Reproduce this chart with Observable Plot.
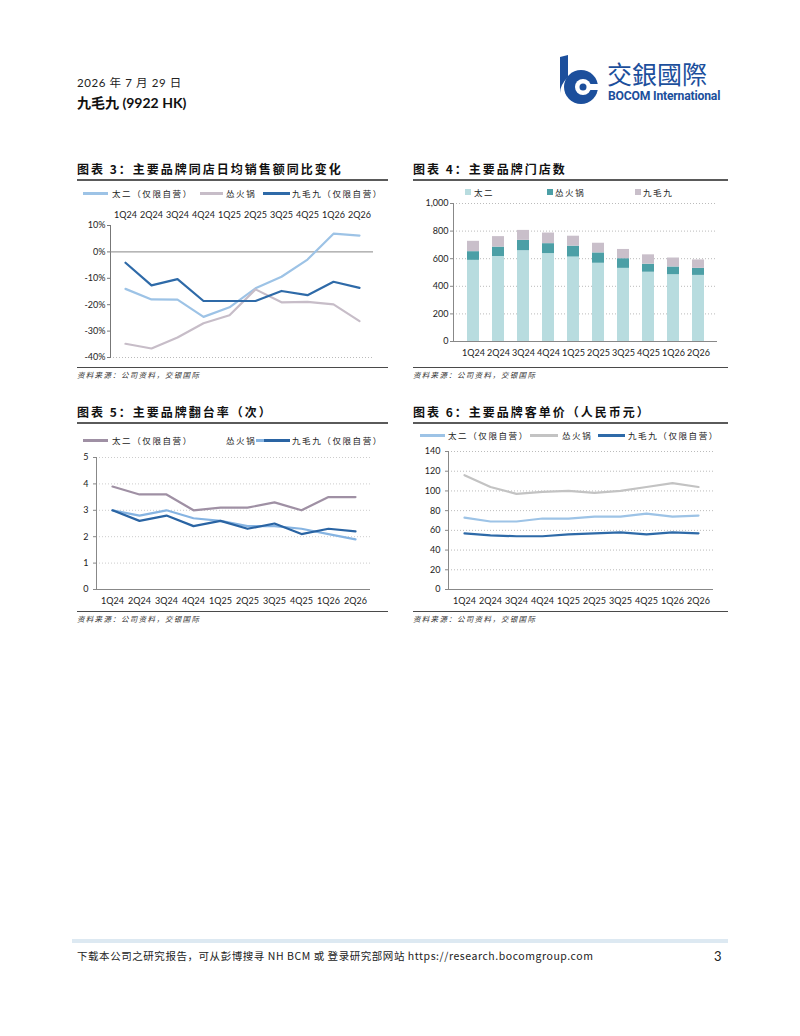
<!DOCTYPE html>
<html><head><meta charset="utf-8">
<script src="https://cdn.jsdelivr.net/npm/d3@7"></script>
<script src="https://cdn.jsdelivr.net/npm/@observablehq/plot@0.6"></script>
<style>
body{margin:0;background:#fff;width:800px;height:1036px;position:relative;overflow:hidden;font-family:"Noto Sans CJK SC",sans-serif;color:#111;}
.abs{position:absolute;white-space:nowrap;line-height:1.2;}
.title{font-weight:bold;font-size:12px;letter-spacing:2px;line-height:14px;}
.tline{height:2px;background:#5a5a5a;}
.bline{height:1px;background:#4a4a4a;}
.src{font-size:7.5px;letter-spacing:1.3px;color:#333;font-style:italic;line-height:10px;}
.leg{font-size:8.5px;letter-spacing:1.6px;color:#222;line-height:10px;}
.sw{position:absolute;height:2.5px;}
.sq{position:absolute;width:6px;height:6px;}
</style>
</head><body>
<script>
const quarters = ["1Q24","2Q24","3Q24","4Q24","1Q25","2Q25","3Q25","4Q25","1Q26","2Q26"];

// 图表3 同店日均销售额同比变化 (%)
const sssTaier = [-14, -18, -18.1, -24.6, -21, -13.8, -9.4, -2.9, 6.9, 6.2];
const sssSong  = [-34.8, -36.6, -32.4, -27, -24, -14.2, -19.1, -18.9, -19.9, -26.2];
const sssJmj   = [-4.1, -12.7, -10.3, -18.6, -18.6, -18.6, -14.8, -16.4, -11.3, -13.6];

// 图表4 门店数
const storesTaier = [588, 616, 658, 637, 612, 567, 530, 502, 484, 479];
const storesSong  = [63, 68, 75, 72, 79, 75, 70, 58, 56, 51];
const storesJmj   = [75, 76, 72, 77, 72, 70, 67, 68, 65, 61];

// 图表5 翻台率（次）
const turnTaier = [3.9, 3.6, 3.6, 3.0, 3.1, 3.1, 3.3, 3.0, 3.5, 3.5];
const turnSong  = [3.0, 2.8, 3.0, 2.7, 2.6, 2.4, 2.4, 2.3, 2.1, 1.9];
const turnJmj   = [3.0, 2.6, 2.8, 2.4, 2.6, 2.3, 2.5, 2.1, 2.3, 2.2];

// 图表6 客单价（人民币元）
const ticketTaier = [73, 69, 69, 72, 72, 74, 74, 77, 74, 75];
const ticketSong  = [116, 104, 97, 99, 100, 98, 100, 104, 108, 104];
const ticketJmj   = [57, 55, 54, 54, 56, 57, 58, 56, 58, 57];

const nameTaierSelf = "太二（仅限自营）";
const nameSong = "怂火锅";
const nameJmjSelf = "九毛九（仅限自营）";
const storeNames = ["太二", "怂火锅", "九毛九"];

function el(tag, cls, style, html) {
  const e = document.createElement(tag);
  if (cls) e.className = cls;
  Object.assign(e.style, style || {});
  if (html != null) e.textContent = html;
  document.body.appendChild(e);
  return e;
}
function place(node, left, top) {
  node.style.position = "absolute";
  node.style.left = left + "px";
  node.style.top = top + "px";
  document.body.appendChild(node);
}
function long(names, arrays) {
  const out = [];
  names.forEach((n, i) => arrays[i].forEach((v, j) => out.push({q: quarters[j], v, s: n})));
  return out;
}
const baseStyle = {fontFamily: "Lato, 'Liberation Sans', sans-serif", fontSize: "9px", color: "#222", background: "transparent", overflow: "visible"};

// ---------- Header ----------
el("div", "abs", {left: "77px", top: "76px", fontSize: "11.5px", fontFamily: "Lato, 'Noto Sans CJK SC'", color: "#222", letterSpacing: "0.6px"}, "2026 年 7 月 29 日");
el("div", "abs", {left: "77px", top: "95px", fontSize: "14px", fontWeight: "bold", fontFamily: "Lato, 'Noto Sans CJK SC'", color: "#111"}, "九毛九 (9922 HK)");
// logo
const logo = document.createElement("div");
logo.innerHTML = `<svg width="46" height="50" viewBox="0 0 46 50">
<path d="M3 2 L11 0 L11 22 Q3 30 3 38 Z" fill="#1c4f9c"/>
<circle cx="24" cy="32" r="17" fill="#1c4f9c"/>
<circle cx="26" cy="32" r="8" fill="#fff"/>
<rect x="26" y="29" width="20" height="6" fill="#fff"/>
<circle cx="26" cy="32" r="3.5" fill="#1c4f9c"/>
</svg>`;
place(logo, 557, 55);
el("div", "abs", {left: "607px", top: "60px", fontSize: "25px", lineHeight: "26px", color: "#1c4f9c", fontFamily: "'Noto Sans CJK TC'"}, "交銀國際");
el("div", "abs", {left: "608px", top: "89px", fontSize: "12.2px", lineHeight: "14px", fontWeight: "bold", color: "#1c4f9c", fontFamily: "Roboto, sans-serif", letterSpacing: "-0.2px"}, "BOCOM International");

// ---------- Frames (titles, lines, sources) ----------
function frame(x, w, titleTop, title, tlineTop, blineTop) {
  el("div", "abs title", {left: x + "px", top: titleTop + "px"}, title);
  el("div", "abs tline", {left: x + "px", top: tlineTop + "px", width: w + "px"});
  el("div", "abs bline", {left: x + "px", top: blineTop + "px", width: w + "px"});
  el("div", "abs src", {left: x + "px", top: (blineTop + 3) + "px"}, "资料来源：公司资料，交银国际");
}
frame(77, 311, 162, "图表 3：主要品牌同店日均销售额同比变化", 179, 367);
frame(413, 315, 162, "图表 4：主要品牌门店数", 179, 367);
frame(77, 311, 405, "图表 5：主要品牌翻台率（次）", 422, 611);
frame(413, 315, 405, "图表 6：主要品牌客单价（人民币元）", 422, 611);

// ---------- Legends ----------
function lineLegend(y, items) {
  items.forEach(it => {
    if (it.sw) el("div", "sw", {left: it.sw[0] + "px", top: (y - 1) + "px", width: (it.sw[1] - it.sw[0]) + "px", background: it.color});
    if (it.text) el("div", "abs leg", {left: it.tx + "px", top: (y - 5) + "px"}, it.text);
  });
}
const cLightBlue = "#9dc3e6", cMauve = "#c7bdc8", cDark = "#2e6aa8", cGray = "#c3c3c3";
const c5Mauve = "#9f90a4", c5Blue = "#86b4e2", c5Dark = "#2a64a3";

lineLegend(193, [
  {sw: [83, 108], color: cLightBlue, tx: 112, text: nameTaierSelf},
  {sw: [200, 223], color: cMauve, tx: 226, text: nameSong},
  {sw: [263, 290], color: cDark, tx: 292, text: nameJmjSelf}
]);
lineLegend(440, [
  {sw: [83, 108], color: c5Mauve, tx: 112, text: nameTaierSelf},
  {tx: 226, text: nameSong},
  {sw: [256, 264], color: c5Blue},
  {sw: [264, 290], color: c5Dark, tx: 292, text: nameJmjSelf}
]);
lineLegend(435, [
  {sw: [420, 445], color: cLightBlue, tx: 448, text: nameTaierSelf},
  {sw: [530, 558], color: cGray, tx: 562, text: nameSong},
  {sw: [598, 625], color: cDark, tx: 628, text: nameJmjSelf}
]);
const storeColors = ["#b8dcdf", "#4c9fa6", "#c9bfca"];
[[465, 474], [547, 555], [635, 643]].forEach((p, i) => {
  el("div", "sq", {left: p[0] + "px", top: "189px", background: storeColors[i]});
  el("div", "abs leg", {left: p[1] + "px", top: "187px"}, storeNames[i]);
});

// ---------- Chart 3 ----------
const pct = d => d + "%";
const c3 = Plot.plot({
  width: 325, height: 170,
  marginLeft: 35, marginRight: 27, marginTop: 25, marginBottom: 13,
  style: baseStyle,
  x: {type: "point", domain: quarters, padding: 0.5},
  y: {domain: [-40, 10]},
  color: {domain: [nameTaierSelf, nameSong, nameJmjSelf], range: [cLightBlue, cMauve, cDark]},
  marks: [
    Plot.gridY([-40], {stroke: "#bbb", strokeOpacity: 1, strokeDasharray: "1,2"}),
    Plot.frame({anchor: "left", stroke: "#777"}),
    Plot.ruleY([0], {stroke: "#888"}),
    Plot.axisY([-40, -30, -20, -10, 0, 10], {tickFormat: pct, tickSize: 3, tickPadding: 2, stroke: "#777", label: null}),
    Plot.axisX({anchor: "top", tickSize: 0, tickPadding: 8, label: null}),
    Plot.line(long([nameTaierSelf, nameSong, nameJmjSelf], [sssTaier, sssSong, sssJmj]), {x: "q", y: "v", z: "s", stroke: "s", strokeWidth: 2.2})
  ]
});
place(c3, 75, 200);

// ---------- Chart 4 ----------
const c4 = Plot.plot({
  width: 325, height: 175,
  marginLeft: 48, marginRight: 13, marginTop: 8, marginBottom: 29,
  style: baseStyle,
  x: {type: "band", domain: quarters, padding: 0.52},
  y: {domain: [0, 1000]},
  color: {domain: storeNames, range: storeColors},
  marks: [
    Plot.gridY([200, 400, 600, 800, 1000], {stroke: "#bbb", strokeOpacity: 1, strokeDasharray: "1,2"}),
    Plot.barY(long(storeNames, [storesTaier, storesSong, storesJmj]), {x: "q", y: "v", fill: "s"}),
    Plot.frame({anchor: "left", stroke: "#888"}),
    Plot.ruleY([0], {stroke: "#888"}),
    Plot.axisY([0, 200, 400, 600, 800, 1000], {tickFormat: d3.format(","), tickSize: 3, tickPadding: 2, stroke: "#888", label: null}),
    Plot.axisX({anchor: "bottom", tickSize: 0, tickPadding: 8, label: null})
  ]
});
place(c4, 405, 195);

// ---------- Chart 5 ----------
const c5 = Plot.plot({
  width: 325, height: 160,
  marginLeft: 21, marginRight: 30, marginTop: 12, marginBottom: 16,
  style: baseStyle,
  x: {type: "point", domain: quarters, padding: 0.5},
  y: {domain: [0, 5]},
  color: {domain: [nameTaierSelf, nameSong, nameJmjSelf], range: [c5Mauve, c5Blue, c5Dark]},
  marks: [
    Plot.gridY([1, 2, 3, 4, 5], {stroke: "#ccc", strokeOpacity: 1, strokeDasharray: "1,2"}),
    Plot.frame({anchor: "left", stroke: "#888"}),
    Plot.ruleY([0], {stroke: "#888"}),
    Plot.axisY([0, 1, 2, 3, 4, 5], {tickSize: 3, tickPadding: 5, stroke: "#888", label: null}),
    Plot.axisX({anchor: "bottom", tickSize: 0, tickPadding: 8, label: null}),
    Plot.line(long([nameTaierSelf, nameSong, nameJmjSelf], [turnTaier, turnSong, turnJmj]), {x: "q", y: "v", z: "s", stroke: "s", strokeWidth: 2.2})
  ]
});
place(c5, 75, 445);

// ---------- Chart 6 ----------
const c6 = Plot.plot({
  width: 325, height: 165,
  marginLeft: 43, marginRight: 17, marginTop: 11, marginBottom: 16,
  style: baseStyle,
  x: {type: "point", domain: quarters, padding: 0.5},
  y: {domain: [0, 140]},
  color: {domain: [nameTaierSelf, nameSong, nameJmjSelf], range: [cLightBlue, cGray, cDark]},
  marks: [
    Plot.gridY([20, 40, 60, 80, 100, 120, 140], {stroke: "#bbb", strokeOpacity: 1, strokeDasharray: "1,2"}),
    Plot.frame({anchor: "left", stroke: "#888"}),
    Plot.ruleY([0], {stroke: "#888"}),
    Plot.axisY([0, 20, 40, 60, 80, 100, 120, 140], {tickSize: 3, tickPadding: 5, stroke: "#888", label: null}),
    Plot.axisX({anchor: "bottom", tickSize: 0, tickPadding: 8, label: null}),
    Plot.line(long([nameTaierSelf, nameSong, nameJmjSelf], [ticketTaier, ticketSong, ticketJmj]), {x: "q", y: "v", z: "s", stroke: "s", strokeWidth: 2.2})
  ]
});
place(c6, 405, 440);

// ---------- Footer ----------
el("div", "abs", {left: "72px", top: "939px", width: "656px", height: "4px", background: "#dde9f2"});
el("div", "abs", {left: "77px", top: "950px", fontSize: "10.5px", letterSpacing: "0.55px", color: "#222", fontFamily: "'Noto Sans CJK SC'"}, "下载本公司之研究报告，可从彭博搜寻 NH BCM  或 登录研究部网站 https://research.bocomgroup.com");
el("div", "abs", {left: "714px", top: "949px", fontSize: "13px", color: "#222", fontFamily: "Lato, sans-serif"}, "3");
</script>
</body></html>
